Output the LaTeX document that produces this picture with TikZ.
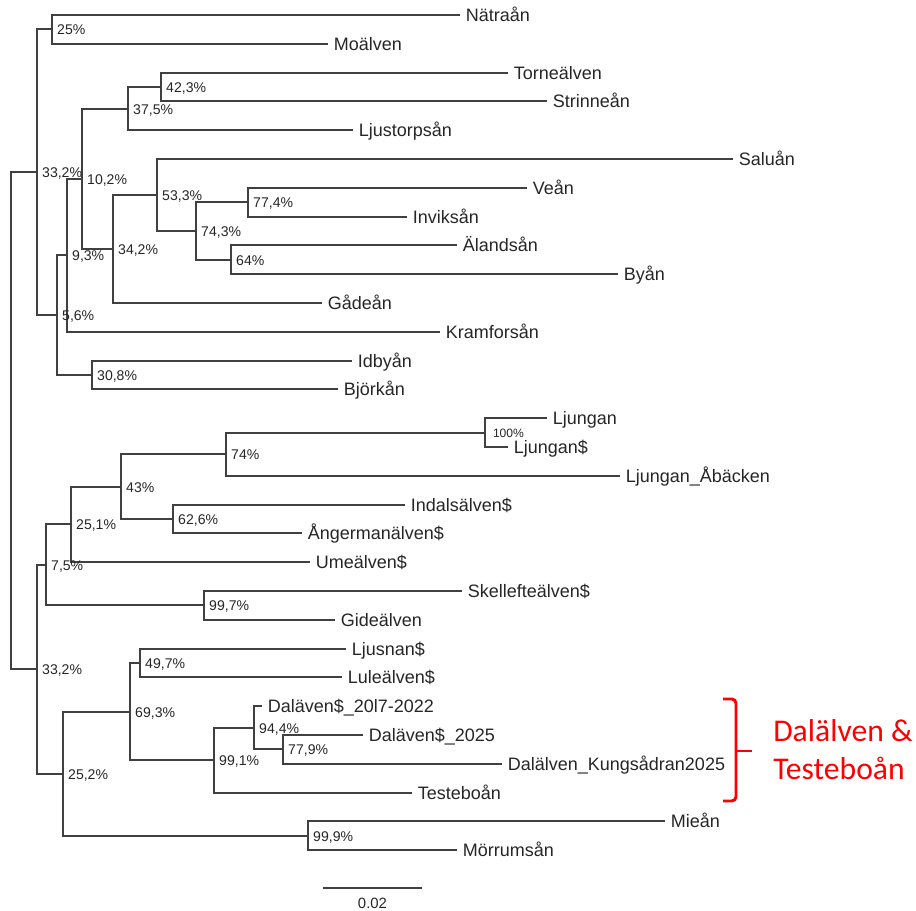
\documentclass[tikz,border=0pt]{standalone}
\usepackage{fontspec}
\setmainfont{Liberation Sans}
\newfontfamily\notefont{Carlito}
\begin{document}
\begin{tikzpicture}[
    x=0.025cm, y=-0.025cm,
    tip/.style={anchor=west, inner xsep=4pt, inner ysep=0pt, text height=9.2pt, text depth=0pt, font=\fontsize{12.8}{15}\selectfont, text=black!85},
    supp/.style={anchor=west, inner xsep=3.5pt, inner ysep=0pt, text height=7.2pt, text depth=0pt, font=\fontsize{10}{12}\selectfont, text=black!85},
    branch/.style={draw=black!75, line width=1.3pt},
    brace/.style={draw=red, line width=2.1pt, rounded corners=3pt},
]

\useasboundingbox (0,0) rectangle (916,911);

% Blad (ändpunkter)
\node[tip] (natraan) at (460, 15) {Nätraån};
\node[tip] (moalven) at (328, 44) {Moälven};
\node[tip] (tornealven) at (508, 73) {Torneälven};
\node[tip] (strinnean) at (547, 101) {Strinneån};
\node[tip] (ljustorpsan) at (353, 130) {Ljustorpsån};
\node[tip] (saluan) at (733, 159) {Saluån};
\node[tip] (vean) at (527, 188) {Veån};
\node[tip] (inviksan) at (407, 217) {Inviksån};
\node[tip] (alandsan) at (457, 245) {Älandsån};
\node[tip] (byan) at (618, 274) {Byån};
\node[tip] (gadean) at (322, 303) {Gådeån};
\node[tip] (kramforsan) at (440, 332) {Kramforsån};
\node[tip] (idbyan) at (352, 361) {Idbyån};
\node[tip] (bjorkan) at (338, 389) {Björkån};
\node[tip] (ljungan) at (547, 418) {Ljungan};
\node[tip] (ljungand) at (508, 447) {Ljungan\$};
\node[tip] (abacken) at (620, 476) {Ljungan\_Åbäcken};
\node[tip] (indalsalven) at (405, 505) {Indalsälven\$};
\node[tip] (angermanalven) at (302, 533) {Ångermanälven\$};
\node[tip] (umealven) at (310, 562) {Umeälven\$};
\node[tip] (skellefte) at (462, 591) {Skellefteälven\$};
\node[tip] (gidealven) at (335, 620) {Gideälven};
\node[tip] (ljusnan) at (346, 649) {Ljusnan\$};
\node[tip] (lulealven) at (342, 677) {Luleälven\$};
\node[tip] (dal17) at (262, 706) {Daläven\$\_20l7-2022};
\node[tip] (dal25) at (363, 735) {Daläven\$\_2025};
\node[tip] (kungsadran) at (502, 764) {Dalälven\_Kungsådran2025};
\node[tip] (testeboan) at (412, 793) {Testeboån};
\node[tip] (miean) at (665, 821) {Mieån};
\node[tip] (morrumsan) at (457, 850) {Mörrumsån};

% Inre noder: övre klad
\coordinate (root) at (11, 421);
\coordinate (b332a) at (37, 172);
\coordinate (b25) at (52, 29);
\coordinate (b56) at (57, 315);
\coordinate (b93) at (67, 255);
\coordinate (b102) at (82, 179);
\coordinate (b375) at (128, 109);
\coordinate (b423) at (161, 87);
\coordinate (b342) at (113, 249);
\coordinate (b533) at (157, 195);
\coordinate (b743) at (196, 231);
\coordinate (b774) at (248, 202);
\coordinate (b64) at (231, 260);
\coordinate (b308) at (92, 375);

% Inre noder: nedre klad
\coordinate (b332b) at (37, 669);
\coordinate (b75) at (46, 565);
\coordinate (b251) at (71, 524);
\coordinate (b43) at (121, 487);
\coordinate (b74) at (226, 454);
\coordinate (b100) at (485, 433);
\coordinate (b626) at (173, 519);
\coordinate (b997) at (204, 605);
\coordinate (b252) at (63, 774);
\coordinate (b693) at (130, 712);
\coordinate (b497) at (140, 663);
\coordinate (b991) at (214, 760);
\coordinate (b944) at (254, 728);
\coordinate (b779) at (283, 749);
\coordinate (b999) at (308, 836);

% Grenar från roten
\draw[branch] (root) |- (b332a);
\draw[branch] (root) |- (b332b);

% Grenar i övre klad
\draw[branch] (b332a) |- (b25);
\draw[branch] (b332a) |- (b56);
\draw[branch] (b25) |- (natraan);
\draw[branch] (b25) |- (moalven);
\draw[branch] (b56) |- (b93);
\draw[branch] (b56) |- (b308);
\draw[branch] (b93) |- (b102);
\draw[branch] (b93) |- (kramforsan);
\draw[branch] (b102) |- (b375);
\draw[branch] (b102) |- (b342);
\draw[branch] (b375) |- (b423);
\draw[branch] (b375) |- (ljustorpsan);
\draw[branch] (b423) |- (tornealven);
\draw[branch] (b423) |- (strinnean);
\draw[branch] (b342) |- (b533);
\draw[branch] (b342) |- (gadean);
\draw[branch] (b533) |- (saluan);
\draw[branch] (b533) |- (b743);
\draw[branch] (b743) |- (b774);
\draw[branch] (b743) |- (b64);
\draw[branch] (b774) |- (vean);
\draw[branch] (b774) |- (inviksan);
\draw[branch] (b64) |- (alandsan);
\draw[branch] (b64) |- (byan);
\draw[branch] (b308) |- (idbyan);
\draw[branch] (b308) |- (bjorkan);

% Grenar i nedre klad
\draw[branch] (b332b) |- (b75);
\draw[branch] (b332b) |- (b252);
\draw[branch] (b75) |- (b251);
\draw[branch] (b75) |- (b997);
\draw[branch] (b251) |- (b43);
\draw[branch] (b251) |- (umealven);
\draw[branch] (b43) |- (b74);
\draw[branch] (b43) |- (b626);
\draw[branch] (b74) |- (b100);
\draw[branch] (b74) |- (abacken);
\draw[branch] (b100) |- (ljungan);
\draw[branch] (b100) |- (ljungand);
\draw[branch] (b626) |- (indalsalven);
\draw[branch] (b626) |- (angermanalven);
\draw[branch] (b997) |- (skellefte);
\draw[branch] (b997) |- (gidealven);
\draw[branch] (b252) |- (b693);
\draw[branch] (b252) |- (b999);
\draw[branch] (b693) |- (b497);
\draw[branch] (b693) |- (b991);
\draw[branch] (b497) |- (ljusnan);
\draw[branch] (b497) |- (lulealven);
\draw[branch] (b991) |- (b944);
\draw[branch] (b991) |- (testeboan);
\draw[branch] (b944) |- (dal17);
\draw[branch] (b944) |- (b779);
\draw[branch] (b779) |- (dal25);
\draw[branch] (b779) |- (kungsadran);
\draw[branch] (b999) |- (miean);
\draw[branch] (b999) |- (morrumsan);

% Stödvärden
\node[supp] (l332a) at (b332a) {33,2\%};
\node[supp] (l25) at (b25) {25\%};
\node[supp] (l56) at (b56) {5,6\%};
\node[supp] (l93) at (b93) {9,3\%};
\node[supp] (l102) at (b102) {10,2\%};
\node[supp] (l375) at (b375) {37,5\%};
\node[supp] (l423) at (b423) {42,3\%};
\node[supp] (l342) at (b342) {34,2\%};
\node[supp] (l533) at (b533) {53,3\%};
\node[supp] (l743) at (b743) {74,3\%};
\node[supp] (l774) at (b774) {77,4\%};
\node[supp] (l64) at (b64) {64\%};
\node[supp] (l308) at (b308) {30,8\%};
\node[supp] (l332b) at (b332b) {33,2\%};
\node[supp] (l75) at (b75) {7,5\%};
\node[supp] (l251) at (b251) {25,1\%};
\node[supp] (l43) at (b43) {43\%};
\node[supp] (l74) at (b74) {74\%};
\node[supp, inner xsep=5.5pt, text height=6.2pt, font=\fontsize{8.6}{10}\selectfont] (l100) at (b100) {100\%};
\node[supp] (l626) at (b626) {62,6\%};
\node[supp] (l997) at (b997) {99,7\%};
\node[supp] (l252) at (b252) {25,2\%};
\node[supp] (l693) at (b693) {69,3\%};
\node[supp] (l497) at (b497) {49,7\%};
\node[supp] (l991) at (b991) {99,1\%};
\node[supp] (l944) at (b944) {94,4\%};
\node[supp] (l779) at (b779) {77,9\%};
\node[supp] (l999) at (b999) {99,9\%};

% Skalstreck
\coordinate (sb1) at (323, 888);
\coordinate (sb2) at (422, 888);
\draw[branch, line width=0.8pt] (sb1) -- (sb2);
\node[font=\fontsize{10.6}{12}\selectfont, text=black!85, inner sep=0pt] (sblabel) at (372.5, 903) {0.02};

% Röd klammer
\coordinate (bt) at (723, 699);
\coordinate (bm) at (736, 751);
\coordinate (bb) at (723, 801);
\coordinate (bk) at (752, 751);
\draw[brace] (bt) -| (bm) |- (bb);
\draw[brace] (bm) -- (bk);
\node[anchor=west, align=left, text=red, inner sep=0pt, font=\notefont\fontsize{22.5}{27}\selectfont] (dalnote) at (773, 750) {Dalälven \&\\Testeboån};

\end{tikzpicture}
\end{document}
